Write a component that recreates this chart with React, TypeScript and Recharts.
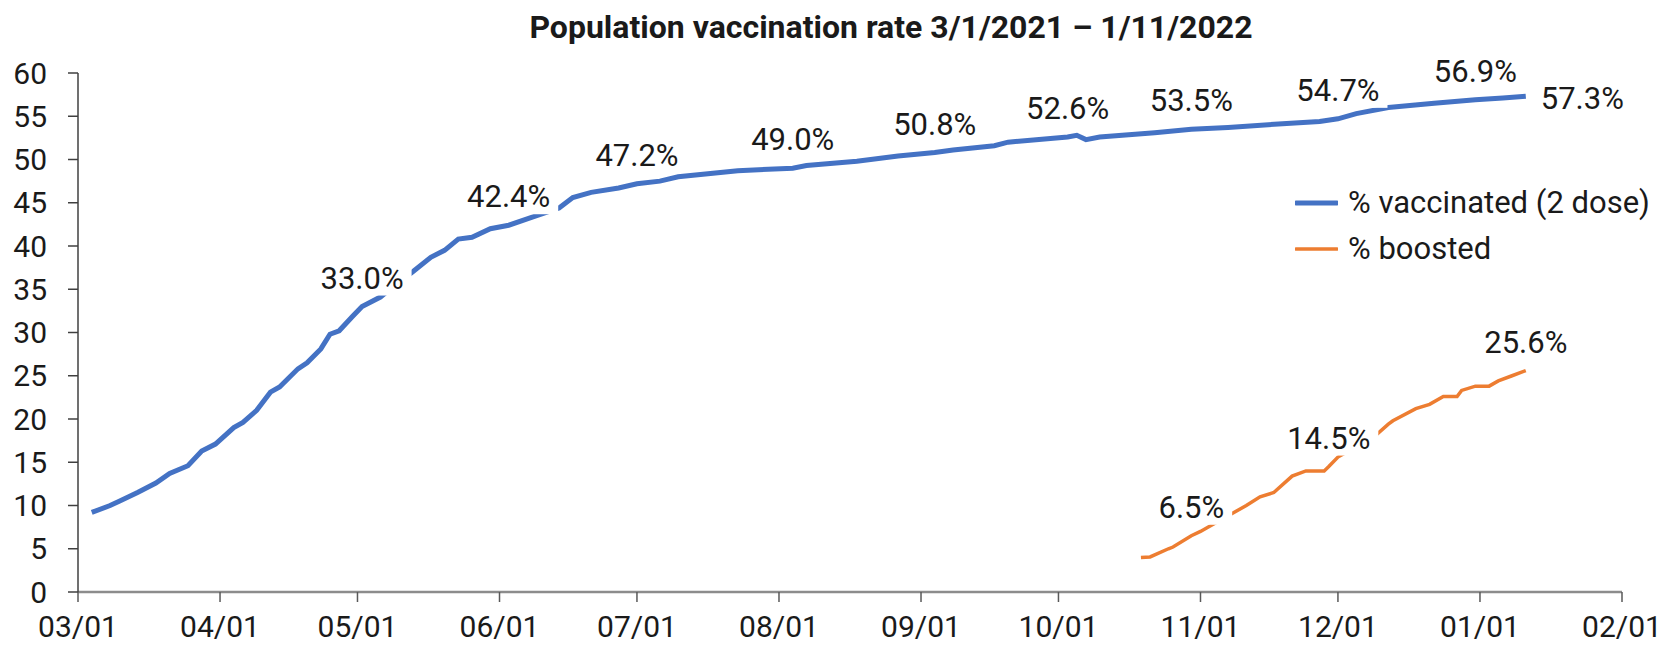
import React from 'react';
import { LineChart, Line, XAxis, YAxis, LabelList } from 'recharts';

const START = Date.UTC(2021, 2, 1);
const dayOf = (s: string) => (Date.parse(s + 'T00:00:00Z') - START) / 86400000;

const monthTicks = [
  '2021-03-01', '2021-04-01', '2021-05-01', '2021-06-01', '2021-07-01', '2021-08-01',
  '2021-09-01', '2021-10-01', '2021-11-01', '2021-12-01', '2022-01-01', '2022-02-01',
];
const monthLabels = ['03/01', '04/01', '05/01', '06/01', '07/01', '08/01', '09/01', '10/01', '11/01', '12/01', '01/01', '02/01'];
const yTicks = [0, 5, 10, 15, 20, 25, 30, 35, 40, 45, 50, 55, 60];

const vaccDates = [
  '2021-03-04', '2021-03-08', '2021-03-10', '2021-03-14', '2021-03-18', '2021-03-21', '2021-03-25',
  '2021-03-28', '2021-03-31', '2021-04-04', '2021-04-06', '2021-04-09', '2021-04-12', '2021-04-14',
  '2021-04-18', '2021-04-20', '2021-04-23', '2021-04-25', '2021-04-27', '2021-04-30', '2021-05-02',
  '2021-05-06', '2021-05-09', '2021-05-13', '2021-05-17', '2021-05-20', '2021-05-23', '2021-05-26',
  '2021-05-30', '2021-06-03', '2021-06-08', '2021-06-14', '2021-06-17', '2021-06-21', '2021-06-27',
  '2021-07-01', '2021-07-06', '2021-07-10', '2021-07-23', '2021-08-04', '2021-08-07', '2021-08-18',
  '2021-08-27', '2021-09-04', '2021-09-08', '2021-09-17', '2021-09-20', '2021-10-03', '2021-10-05',
  '2021-10-07', '2021-10-10', '2021-10-22', '2021-10-30', '2021-11-07', '2021-11-18', '2021-11-27',
  '2021-12-01', '2021-12-05', '2021-12-12', '2021-12-22', '2021-12-31', '2022-01-06', '2022-01-11',
];
const vaccValues = [
  9.2, 10.0, 10.5, 11.5, 12.6, 13.7, 14.6,
  16.3, 17.1, 19.0, 19.6, 21.0, 23.1, 23.7,
  25.8, 26.5, 28.1, 29.8, 30.2, 31.9, 33.0,
  34.1, 35.4, 37.0, 38.7, 39.5, 40.8, 41.0,
  42.0, 42.4, 43.3, 44.4, 45.6, 46.2, 46.7,
  47.2, 47.5, 48.0, 48.7, 49.0, 49.3, 49.8,
  50.4, 50.8, 51.1, 51.6, 52.0, 52.6, 52.8,
  52.3, 52.6, 53.1, 53.5, 53.7, 54.1, 54.4,
  54.7, 55.3, 56.0, 56.5, 56.9, 57.1, 57.3,
];
const vaccLabelDates = ['2021-05-02', '2021-06-03', '2021-07-01', '2021-08-04', '2021-09-04', '2021-10-03', '2021-10-30', '2021-12-01', '2021-12-31', '2022-01-11'];
const vaccLabelTexts = ['33.0%', '42.4%', '47.2%', '49.0%', '50.8%', '52.6%', '53.5%', '54.7%', '56.9%', '57.3%'];

const boostDates = [
  '2021-10-19', '2021-10-21', '2021-10-25', '2021-10-26', '2021-10-30', '2021-11-01', '2021-11-03',
  '2021-11-06', '2021-11-08', '2021-11-11', '2021-11-14', '2021-11-17', '2021-11-21', '2021-11-24',
  '2021-11-28', '2021-11-29', '2021-12-01', '2021-12-05', '2021-12-09', '2021-12-12', '2021-12-13',
  '2021-12-18', '2021-12-21', '2021-12-24', '2021-12-27', '2021-12-28', '2021-12-31', '2022-01-03',
  '2022-01-05', '2022-01-08', '2022-01-11',
];
const boostValues = [
  4.0, 4.05, 5.0, 5.2, 6.5, 7.0, 7.6,
  8.5, 9.1, 10.0, 11.0, 11.5, 13.4, 14.0,
  14.0, 14.5, 15.6, 16.8, 18.0, 19.4, 19.8,
  21.2, 21.7, 22.6, 22.6, 23.3, 23.8, 23.8,
  24.4, 25.0, 25.6,
];
const boostLabelDates = ['2021-10-30', '2021-11-29', '2022-01-11'];
const boostLabelTexts = ['6.5%', '14.5%', '25.6%'];

const build = (dates: string[], values: number[], labelDates: string[], labelTexts: string[]) =>
  dates.map((d, i) => {
    const li = labelDates.indexOf(d);
    return { day: dayOf(d), value: values[i], label: li >= 0 ? labelTexts[li] : undefined };
  });

const vaccData = build(vaccDates, vaccValues, vaccLabelDates, vaccLabelTexts);
const boostData = build(boostDates, boostValues, boostLabelDates, boostLabelTexts);

const BLUE = '#4472C4';
const ORANGE = '#ED7D31';
const TEXT = '#1a1a1a';
const FONT = 'Roboto, "Noto Sans", sans-serif';
const TICK_FS = 30;
const FS = 31;

const charW = (c: string) => (c === '.' ? 0.263 : c === '%' ? 0.732 : 0.5615);
const textWidth = (s: string) => s.split('').reduce((a, c) => a + charW(c), 0) * FS;

const makeLabel = (lastRight: boolean, count: number) => (props: any) => {
  const { x, y, value, index } = props;
  if (!value) return null;
  const w = textWidth(String(value));
  const right = lastRight && index === count - 1;
  const cx = right ? x + 15 + w / 2 : x;
  const cy = right ? y + 1 : y - 29;
  return (
    <g>
      <rect x={cx - w / 2 - 8} y={cy - 18} width={w + 16} height={36} fill="#fff" />
      <text x={cx} y={cy} dy="0.36em" textAnchor="middle" fontSize={FS} fontFamily={FONT} fill={TEXT}>
        {value}
      </text>
    </g>
  );
};

export default function App() {
  const tickDays = monthTicks.map(dayOf);
  return (
    <div style={{ position: 'relative', width: 1664, height: 648, background: '#fff', fontFamily: FONT }}>
      <style>{'body{margin:0}'}</style>
      <div
        style={{
          position: 'absolute',
          left: 0,
          width: 1782,
          top: 8,
          textAlign: 'center',
          fontSize: 32,
          fontWeight: 700,
          lineHeight: '38px',
          color: TEXT,
        }}
      >
        Population vaccination rate 3/1/2021 – 1/11/2022
      </div>
      <LineChart width={1664} height={648} margin={{ top: 73, right: 42, bottom: 0, left: 0 }}>
        <XAxis
          type="number"
          dataKey="day"
          domain={[0, 337]}
          ticks={tickDays}
          tickFormatter={(v: number) => monthLabels[tickDays.indexOf(v)] ?? ''}
          height={56}
          tickSize={10}
          tickMargin={14}
          axisLine={{ stroke: '#8c8c8c', strokeWidth: 2.5 }}
          tickLine={{ stroke: '#595959', strokeWidth: 1.5 }}
          tick={{ fontSize: TICK_FS, fill: TEXT, fontFamily: FONT }}
          allowDataOverflow
        />
        <YAxis
          type="number"
          domain={[0, 60]}
          ticks={yTicks}
          width={78}
          tickSize={10}
          tickMargin={21}
          axisLine={{ stroke: '#404040', strokeWidth: 1.5 }}
          tickLine={{ stroke: '#404040', strokeWidth: 1.5 }}
          tick={{ fontSize: TICK_FS, fill: TEXT, fontFamily: FONT }}
          interval={0}
        />
        <Line
          data={vaccData}
          dataKey="value"
          type="linear"
          stroke={BLUE}
          strokeWidth={5}
          dot={false}
          isAnimationActive={false}
        >
          <LabelList dataKey="label" content={makeLabel(true, vaccData.length)} />
        </Line>
        <Line
          data={boostData}
          dataKey="value"
          type="linear"
          stroke={ORANGE}
          strokeWidth={3.5}
          dot={false}
          isAnimationActive={false}
        >
          <LabelList dataKey="label" content={makeLabel(false, boostData.length)} />
        </Line>
      </LineChart>
      <div style={{ position: 'absolute', left: 1295, top: 180, fontSize: FS, color: TEXT, lineHeight: '46px' }}>
        {[
          { name: '% vaccinated (2 dose)', color: BLUE, w: 5 },
          { name: '% boosted', color: ORANGE, w: 3.5 },
        ].map((it) => (
          <div key={it.name} style={{ display: 'flex', alignItems: 'center', height: 46, whiteSpace: 'nowrap' }}>
            <svg width={43} height={10} style={{ marginRight: 10 }}>
              <line x1={1} y1={5} x2={42} y2={5} stroke={it.color} strokeWidth={it.w} strokeLinecap="round" />
            </svg>
            <span>{it.name}</span>
          </div>
        ))}
      </div>
    </div>
  );
}
